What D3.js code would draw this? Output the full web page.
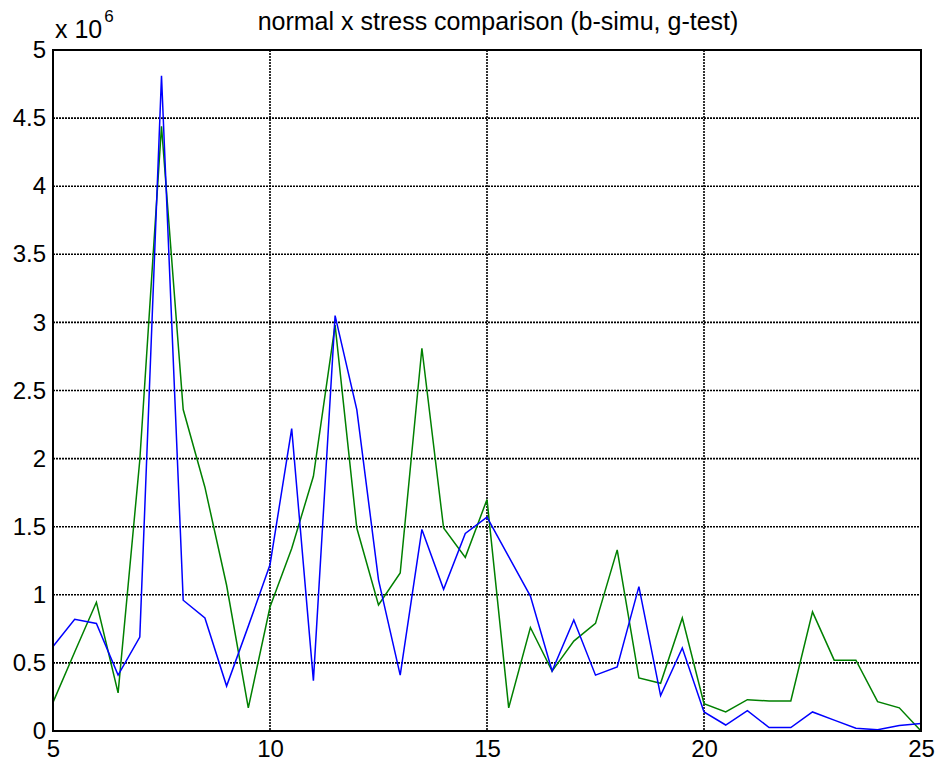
<!DOCTYPE html>
<html>
<head>
<meta charset="utf-8">
<script src="https://cdn.jsdelivr.net/npm/d3@7"></script>
<style>
  html, body { margin: 0; padding: 0; background: #fff; }
  svg { display: block; font-family: "Liberation Sans", Arial, sans-serif; }
</style>
</head>
<body>
<svg id="chart" width="939" height="774"></svg>
<script>
// Positions along the member (x) and normal x stress, in units of 1e6
const positions = d3.range(5, 25.0001, 0.5);
const simuStress = [
  0.62, 0.82, 0.79, 0.41, 0.69, 4.81, 0.96, 0.83, 0.33, 0.77,
  1.22, 2.22, 0.37, 3.05, 2.36, 1.11, 0.41, 1.48, 1.04, 1.45,
  1.57, 1.28, 0.99, 0.44, 0.815, 0.41, 0.47, 1.06, 0.26, 0.61,
  0.14, 0.044, 0.15, 0.025, 0.025, 0.14, 0.08, 0.02, 0.01, 0.04,
  0.055
];
const testStress = [
  0.21, 0.58, 0.945, 0.28, 1.99, 4.44, 2.36, 1.79, 1.07, 0.17,
  0.91, 1.34, 1.87, 2.98, 1.49, 0.925, 1.16, 2.81, 1.49, 1.275,
  1.70, 0.17, 0.76, 0.44, 0.66, 0.79, 1.33, 0.39, 0.35, 0.83,
  0.20, 0.14, 0.23, 0.22, 0.22, 0.875, 0.52, 0.52, 0.215, 0.17,
  0.00
];
const xTicks = [5, 10, 15, 20, 25];
const yTicks = [0, 0.5, 1, 1.5, 2, 2.5, 3, 3.5, 4, 4.5, 5];

const plotLeft = 53, plotRight = 921, plotTop = 50, plotBottom = 731;
const svg = d3.select("#chart");

const x = d3.scaleLinear().domain([5, 25]).range([plotLeft, plotRight]);
const y = d3.scaleLinear().domain([0, 5]).range([plotBottom, plotTop]);

// dotted grid
const grid = svg.append("g").attr("stroke", "#000").attr("stroke-width", 1.6)
  .attr("stroke-dasharray", "2,1").attr("fill", "none");
xTicks.slice(1, -1).forEach(t => {
  grid.append("line").attr("x1", x(t)).attr("x2", x(t)).attr("y1", plotTop).attr("y2", plotBottom);
});
yTicks.slice(1, -1).forEach(t => {
  grid.append("line").attr("x1", plotLeft).attr("x2", plotRight).attr("y1", y(t)).attr("y2", y(t));
});

// data lines
const line = d3.line().x((d, i) => x(positions[i])).y(d => y(d));
svg.append("path").datum(testStress).attr("d", line)
  .attr("fill", "none").attr("stroke", "#008000").attr("stroke-width", 1.5);
svg.append("path").datum(simuStress).attr("d", line)
  .attr("fill", "none").attr("stroke", "#0000ff").attr("stroke-width", 1.5);

// frame
svg.append("rect").attr("x", plotLeft).attr("y", plotTop)
  .attr("width", plotRight - plotLeft).attr("height", plotBottom - plotTop)
  .attr("fill", "none").attr("stroke", "#000").attr("stroke-width", 2);

// axes with labels only (ticks hidden under grid)
const fmt = d => (Number.isInteger(d) ? d3.format("d")(d) : d3.format(".1f")(d));
const xAxis = svg.append("g").attr("transform", `translate(0,${plotBottom})`)
  .call(d3.axisBottom(x).tickValues(xTicks).tickSize(0).tickPadding(9).tickFormat(fmt));
const yAxis = svg.append("g").attr("transform", `translate(${plotLeft},0)`)
  .call(d3.axisLeft(y).tickValues(yTicks).tickSize(0).tickPadding(7).tickFormat(fmt));
[xAxis, yAxis].forEach(a => {
  a.select(".domain").remove();
  a.selectAll("text").attr("font-size", 24).attr("fill", "#000")
    .attr("font-family", "'Liberation Sans', Arial, sans-serif");
});

// exponent label
const exp = svg.append("text").attr("x", 55).attr("y", 38)
  .attr("font-size", 25).attr("fill", "#000");
exp.append("tspan").text("x 10");
exp.append("tspan").attr("dx", 2).attr("dy", -16).attr("font-size", 17).text("6");

// title
svg.append("text").attr("x", 498).attr("y", 30).attr("text-anchor", "middle")
  .attr("font-size", 25).attr("fill", "#000")
  .text("normal x stress comparison (b-simu, g-test)");
</script>
</body>
</html>
